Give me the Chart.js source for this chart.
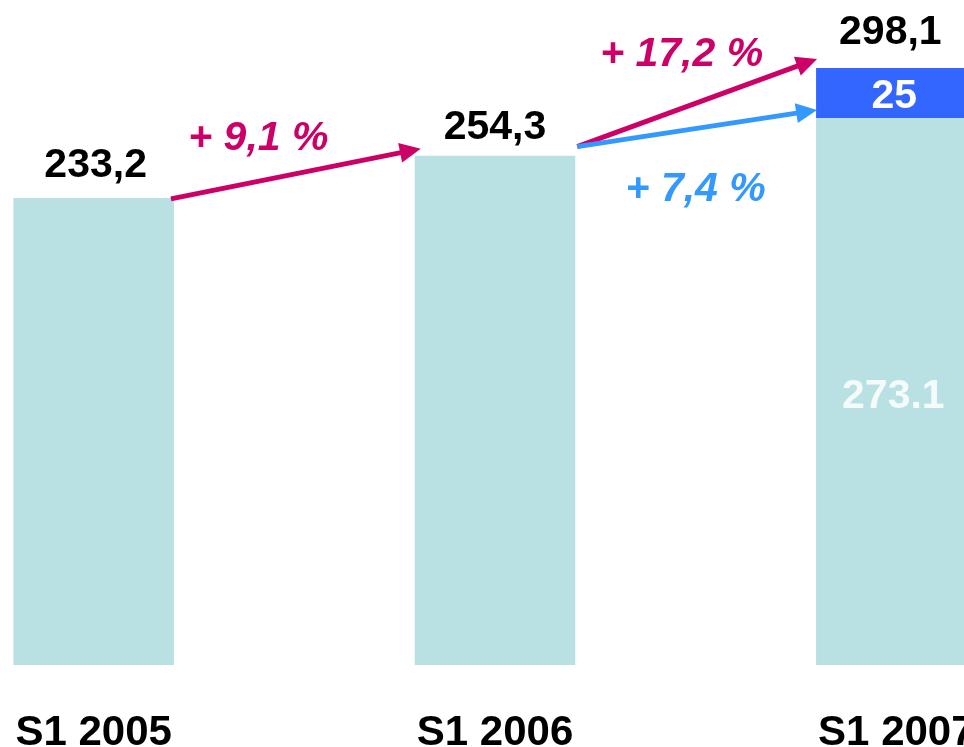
<!DOCTYPE html>
<html>
<head>
<meta charset="utf-8">
<script src="https://cdn.jsdelivr.net/npm/chart.js@4"></script>
<style>
html,body{margin:0;padding:0;background:#fff;overflow:hidden;width:964px;height:747px;}
#wrap{position:absolute;left:-107px;top:0;width:1204px;height:747px;}
</style>
</head>
<body>
<div id="wrap"><canvas id="c" width="1204" height="747"></canvas></div>
<script>
const categories = ['S1 2005', 'S1 2006', 'S1 2007'];
const baseValues = [233.2, 254.3, 273.1];
const extraValues = [null, null, 25];
const totalLabels = ['233,2', '254,3', '298,1'];
const innerLabels = [null, null, '273.1'];
const growthLabels = ['+ 9,1 %', '+ 17,2 %', '+ 7,4 %'];

const TEAL = '#B9E0E2', BLUE = '#3366FF', MAGENTA = '#CC0066', LIGHTBLUE = '#3399FF';

function arrow(ctx, x1, y1, x2, y2, color) {
  const ang = Math.atan2(y2 - y1, x2 - x1);
  const head = 21, hw = 10;
  const bx = x2 - head * Math.cos(ang), by = y2 - head * Math.sin(ang);
  ctx.save();
  ctx.strokeStyle = color; ctx.fillStyle = color; ctx.lineWidth = 5; ctx.lineCap = 'butt';
  ctx.beginPath(); ctx.moveTo(x1, y1); ctx.lineTo(bx + 2 * Math.cos(ang), by + 2 * Math.sin(ang)); ctx.stroke();
  ctx.beginPath();
  ctx.moveTo(x2, y2);
  ctx.lineTo(bx + hw * Math.sin(ang), by - hw * Math.cos(ang));
  ctx.lineTo(bx - hw * Math.sin(ang), by + hw * Math.cos(ang));
  ctx.closePath(); ctx.fill();
  ctx.restore();
}

const annot = {
  id: 'annot',
  afterDatasetsDraw(chart) {
    const ctx = chart.ctx, x = chart.scales.x, y = chart.scales.y;
    const m0 = chart.getDatasetMeta(0), m1 = chart.getDatasetMeta(1);
    const totals = baseValues.map((v, i) => v + (extraValues[i] || 0));
    ctx.save();
    ctx.textAlign = 'center';
    ctx.textBaseline = 'alphabetic';
    // totals
    ctx.font = 'bold 41px "Liberation Sans", Arial, sans-serif';
    ctx.fillStyle = '#000';
    const offs = [21, 17, 24], dx = [2, 0, -6];
    totals.forEach((t, i) => {
      ctx.fillText(totalLabels[i], x.getPixelForValue(i) + dx[i], y.getPixelForValue(t) - offs[i]);
    });
    // inner labels
    ctx.fillStyle = '#fff';
    const e = m1.data[2];
    ctx.fillText(String(extraValues[2]), x.getPixelForValue(2) - 2, (e.y + e.base) / 2 + 15);
    ctx.fillStyle = 'rgba(255,255,255,0.85)';
    const b = m0.data[2];
    ctx.fillText(innerLabels[2], x.getPixelForValue(2) - 3, (b.y + b.base) / 2 + 17);
    // arrows
    const b0 = m0.data[0], b1 = m0.data[1];
    const r0 = b0.x + b0.width / 2, l1 = b1.x - b1.width / 2, r1 = b1.x + b1.width / 2, l2 = b.x - b.width / 2;
    arrow(ctx, r0 - 3, b0.y + 1, l1 + 6, b1.y - 7, MAGENTA);
    arrow(ctx, r1 + 2, b1.y - 9, l2 + 1, e.y - 9, MAGENTA);
    arrow(ctx, r1 + 2, b1.y - 9, l2 + 1, b.y - 8, LIGHTBLUE);
    // growth labels
    ctx.font = 'italic bold 41px "Liberation Sans", Arial, sans-serif';
    ctx.fillStyle = MAGENTA;
    ctx.fillText(growthLabels[0], (r0 + l1) / 2 - 36, b1.y - 6);
    ctx.fillText(growthLabels[1], (r1 + l2) / 2 - 14, e.y - 2);
    ctx.fillStyle = LIGHTBLUE;
    ctx.fillText(growthLabels[2], (r1 + l2) / 2, b.y + 83);
    ctx.restore();
  }
};

new Chart(document.getElementById('c'), {
  type: 'bar',
  data: {
    labels: categories,
    datasets: [
      { data: baseValues, backgroundColor: TEAL, borderWidth: 0 },
      { data: extraValues, backgroundColor: BLUE, borderWidth: 0 }
    ]
  },
  options: {
    responsive: false,
    animation: false,
    devicePixelRatio: 1,
    layout: { padding: 0 },
    plugins: { legend: { display: false }, tooltip: { enabled: false } },
    datasets: { bar: { barPercentage: 0.4, categoryPercentage: 1 } },
    scales: {
      x: {
        stacked: true,
        grid: { display: false, drawTicks: false },
        border: { display: false },
        ticks: {
          color: '#000',
          padding: 43,
          font: { family: '"Liberation Sans", Arial, sans-serif', size: 42, weight: 'bold', lineHeight: 1.2 }
        },
        afterFit(s) { s.height = 82; }
      },
      y: {
        stacked: true, display: false, min: 0, max: 332
      }
    }
  },
  plugins: [annot]
});
</script>
</body>
</html>
